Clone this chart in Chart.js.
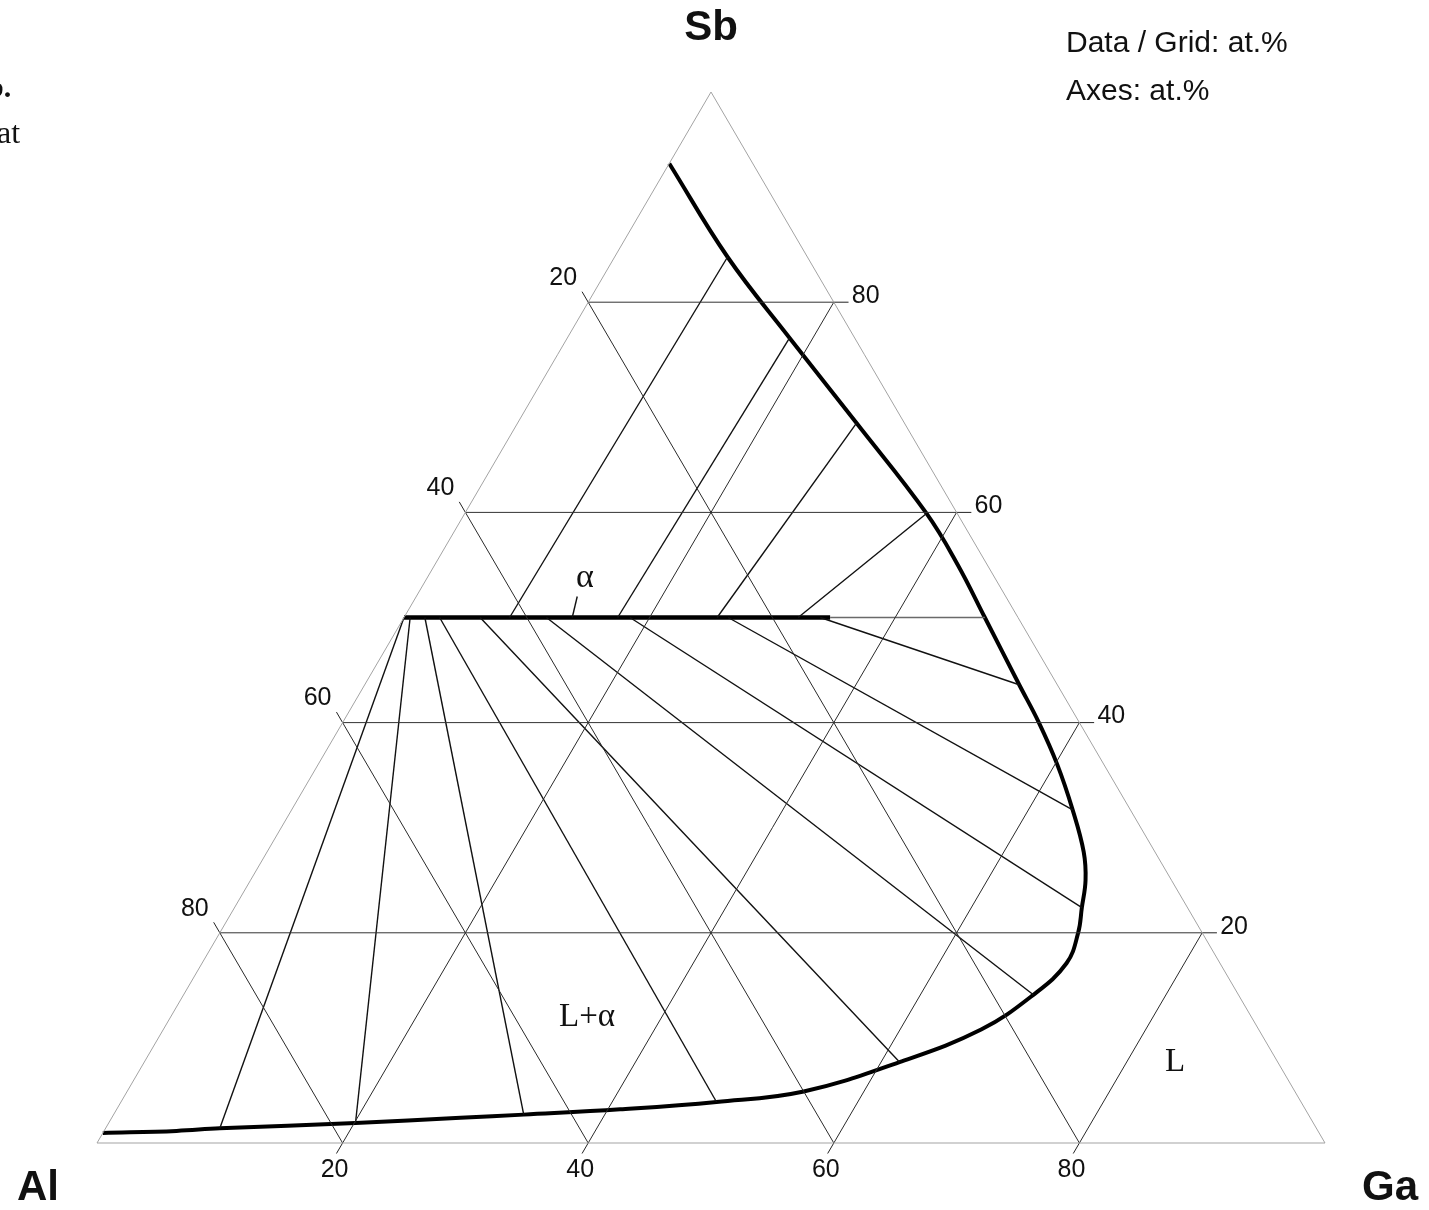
<!DOCTYPE html>
<html>
<head>
<meta charset="utf-8">
<title>Al-Ga-Sb</title>
<script src="https://cdn.jsdelivr.net/npm/chart.js@4.4.1/dist/chart.umd.min.js"></script>
<style>
  body { margin: 0; background: #fff; }
  #wrap { position: relative; width: 1429px; height: 1210px; }
</style>
</head>
<body>
<div id="wrap"><canvas id="tern" width="1429" height="1210"></canvas></div>
<script>
// grid / tick levels (at.%)
const gridLevels = [20, 40, 60, 80];

// liquidus, from the Al corner round the nose up to the Al-Sb edge
const liqGa = [0, 5.9, 9.3, 20.1, 28.4, 33.4, 41.0, 48.5, 55.1, 61.5, 66.6, 69.2, 70.4, 69.9, 69.0, 68.0, 66.5, 63.6, 60.2, 56.7, 53.3, 47.3, 42.6, 37.6, 27.6, 18.1, 9.2, 0];
const liqSb = [0.95, 1.15, 1.4, 1.9, 2.4, 2.7, 3.2, 3.9, 4.9, 7.7, 10.8, 14.1, 17.1, 20.0, 22.4, 25.0, 27.7, 31.7, 36.0, 40.0, 43.6, 50.0, 55.0, 59.9, 68.5, 76.6, 84.3, 93.2];

// alpha solid solution (AlSb-GaSb section)
const alphaGa = [0, 34.7];
const alphaSb = 50;

// tie lines: alpha end (Ga at Sb=50) -> liquid end (Ga, Sb)
const tieSolidGa = [0, 0.5, 1.7, 2.9, 6.2, 11.6, 18.4, 26.4, 33.9, 34.7, 8.6, 17.4, 25.5, 32.1];
const tieLiqGa   = [9.3, 20.1, 33.4, 48.5, 61.5, 69.2, 69.0, 63.6, 53.3, 47.3, 9.2, 18.1, 27.6, 37.6];
const tieLiqSb   = [1.4, 1.9, 2.7, 3.9, 7.7, 14.1, 22.4, 31.7, 43.6, 50.0, 84.3, 76.6, 68.5, 59.9];

// ternary (Ga, Sb) -> plot x/y
function tern(ga, sb) {
    return { x: ga + sb / 2, y: sb };
}

function seg(points, color, width, extra) {
    return Object.assign({
        data: points,
        showLine: true,
        pointRadius: 0,
        borderColor: color,
        borderWidth: width,
        fill: false,
        clip: false,
        tension: 0
    }, extra || {});
}

let datasets = [];

// triangle outline
datasets.push(seg([tern(0, 0), tern(100, 0), tern(0, 100), tern(0, 0)], '#a3a3a3', 1));

// grid lines and ticks
gridLevels.forEach(v => {
    datasets.push(seg([tern(0, v), tern(100 - v, v)], '#333', 1));          // Sb const
    datasets.push(seg([tern(v, 0), tern(v, 100 - v)], '#2a2a2a', 1));        // Ga const
    datasets.push(seg([tern(0, 100 - v), tern(100 - v, 0)], '#2a2a2a', 1));  // Al const
    datasets.push(seg([tern(v, 0), tern(v, -1)], '#222', 1));                  // Ga ticks
    datasets.push(seg([tern(100 - v, v), tern(101.2 - v, v)], '#222', 1));     // Sb ticks
    datasets.push(seg([tern(0, 100 - v), tern(-1, 101 - v)], '#222', 1));      // Al ticks
});

// tie lines
tieSolidGa.forEach((g, i) => {
    let col = tieLiqSb[i] == alphaSb ? '#6a6a6a' : '#111';
    datasets.push(seg([tern(g, alphaSb), tern(tieLiqGa[i], tieLiqSb[i])], col, 1.4));
});

// alpha phase
datasets.push(seg(alphaGa.map(g => tern(g, alphaSb)), '#000', 4.5));

// liquidus
datasets.push(seg(liqGa.map((g, i) => tern(g, liqSb[i])), '#000', 4, { tension: 0.4 }));

const sans = '"Liberation Sans", Arial, sans-serif';
const serif = '"Liberation Serif", "Times New Roman", serif';

const ternLabels = {
    id: 'ternLabels',
    afterDraw(chart) {
        const ctx = chart.ctx;
        const sx = chart.scales.x, sy = chart.scales.y;
        const px = (ga, sb) => [sx.getPixelForValue(ga + sb / 2), sy.getPixelForValue(sb)];
        ctx.save();
        ctx.fillStyle = '#111';
        ctx.textBaseline = 'middle';

        // axis numbers
        ctx.font = '25px ' + sans;
        gridLevels.forEach(v => {
            let [bx, by] = px(v, 0);
            ctx.textAlign = 'center';
            ctx.fillText(String(v), bx - 8, by + 27);
            let [lx, ly] = px(0, 100 - v);
            ctx.fillText(String(v), lx - 25, ly - 24);
            let [rx, ry] = px(100 - v, v);
            ctx.textAlign = 'left';
            ctx.fillText(String(v), rx + 18, ry - 6);
        });

        // corners
        ctx.font = 'bold 42px ' + sans;
        ctx.textAlign = 'center';
        ctx.fillText('Sb', 711, 28);
        ctx.fillText('Al', 38, 1188);
        ctx.fillText('Ga', 1390, 1188);

        // units
        ctx.font = '30px ' + sans;
        ctx.textAlign = 'left';
        ctx.fillText('Data / Grid: at.%', 1066, 44);
        ctx.fillText('Axes: at.%', 1066, 92);

        // phase fields
        ctx.font = '34px ' + serif;
        ctx.textAlign = 'center';
        ctx.fillText('\u03b1', 585, 578);
        ctx.font = '33px ' + serif;
        ctx.fillText('L+\u03b1', 587, 1017);
        ctx.fillText('L', 1175, 1062);

        // leader from alpha label to the alpha line
        let [ax, ay] = px(13.7, alphaSb);
        ctx.strokeStyle = '#111';
        ctx.lineWidth = 1.4;
        ctx.beginPath();
        ctx.moveTo(ax, ay);
        ctx.lineTo(ax + 5, ay - 21);
        ctx.stroke();

        // caption remnants at the left margin
        ctx.textBaseline = 'alphabetic';
        ctx.textAlign = 'left';
        ctx.font = 'bold 30px ' + serif;
        ctx.fillText('b.', -13, 97);
        ctx.font = '32px ' + serif;
        ctx.fillText('at', -3, 143);
        ctx.restore();
    }
};

new Chart(document.getElementById('tern'), {
    type: 'scatter',
    data: { datasets: datasets },
    options: {
        responsive: false,
        animation: false,
        events: [],
        layout: { padding: { left: 97, right: 104, top: 92, bottom: 67 } },
        plugins: { legend: { display: false }, tooltip: { enabled: false } },
        scales: {
            x: { type: 'linear', min: 0, max: 100, display: false },
            y: { type: 'linear', min: 0, max: 100, display: false }
        }
    },
    plugins: [ternLabels]
});
</script>
</body>
</html>
